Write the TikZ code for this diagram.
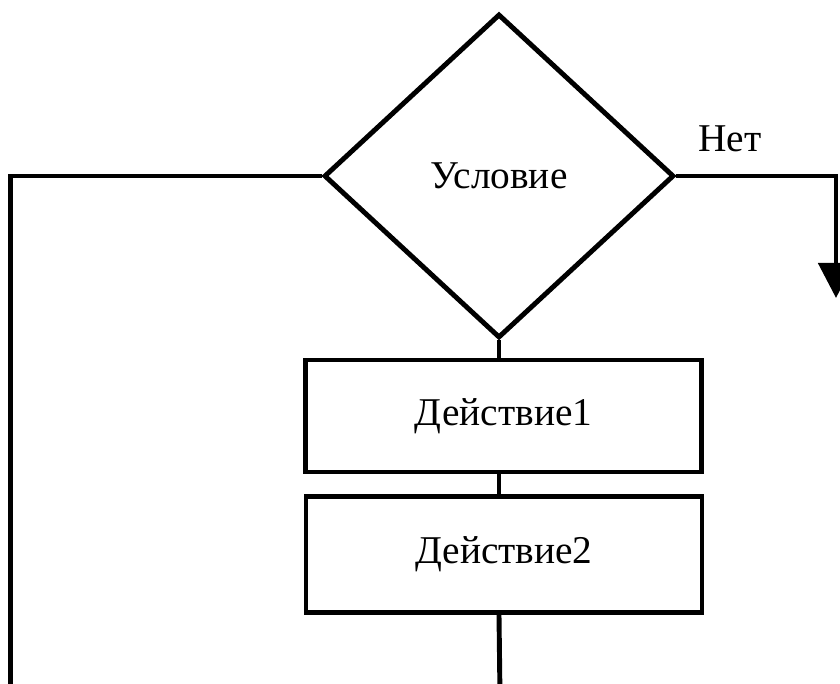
\documentclass[tikz,border=0pt]{standalone}
\usepackage{fontspec}
\setmainfont{Liberation Serif}
\usetikzlibrary{shapes.geometric,arrows.meta,positioning}

\begin{document}
\begin{tikzpicture}[line width=3.5pt, every node/.style = {font=\fontsize{28}{33}\selectfont},
  cond/.style = {shape=diamond, draw, inner sep=0pt, minimum width=8.75cm, minimum height=8.1cm},
  act/.style = {shape=rectangle, draw, minimum width=9.9cm, minimum height=2.8cm}]
  \useasboundingbox (0,0) rectangle (21,-17.1);
  \node[cond] (cond) at (12.475,-4.4) {Условие};
  \node[act] (act1) at (12.59,-10.4) {Действие1};
  \node[act, minimum height=2.9cm] (act2) at (12.6,-13.86) {Действие2};
  \node[anchor=base west, inner sep=0pt] (no) at (17.4,-3.8) {Нет};
  \coordinate (lend) at (0.26,-17.4);
  \coordinate (rtip) at (20.9,-7.45);
  \coordinate (bend) at (12.5,-17.4);
  \draw (cond.south) -- (cond.south |- act1.north);
  \draw (cond.south |- act1.south) -- (cond.south |- act2.north);
  \draw (cond.south |- act2.south) -- (bend);
  \draw (cond.west) -| (lend);
  \draw[-{Triangle[length=25pt, width=25pt]}] (cond.east) -| (rtip);
\end{tikzpicture}
\end{document}
